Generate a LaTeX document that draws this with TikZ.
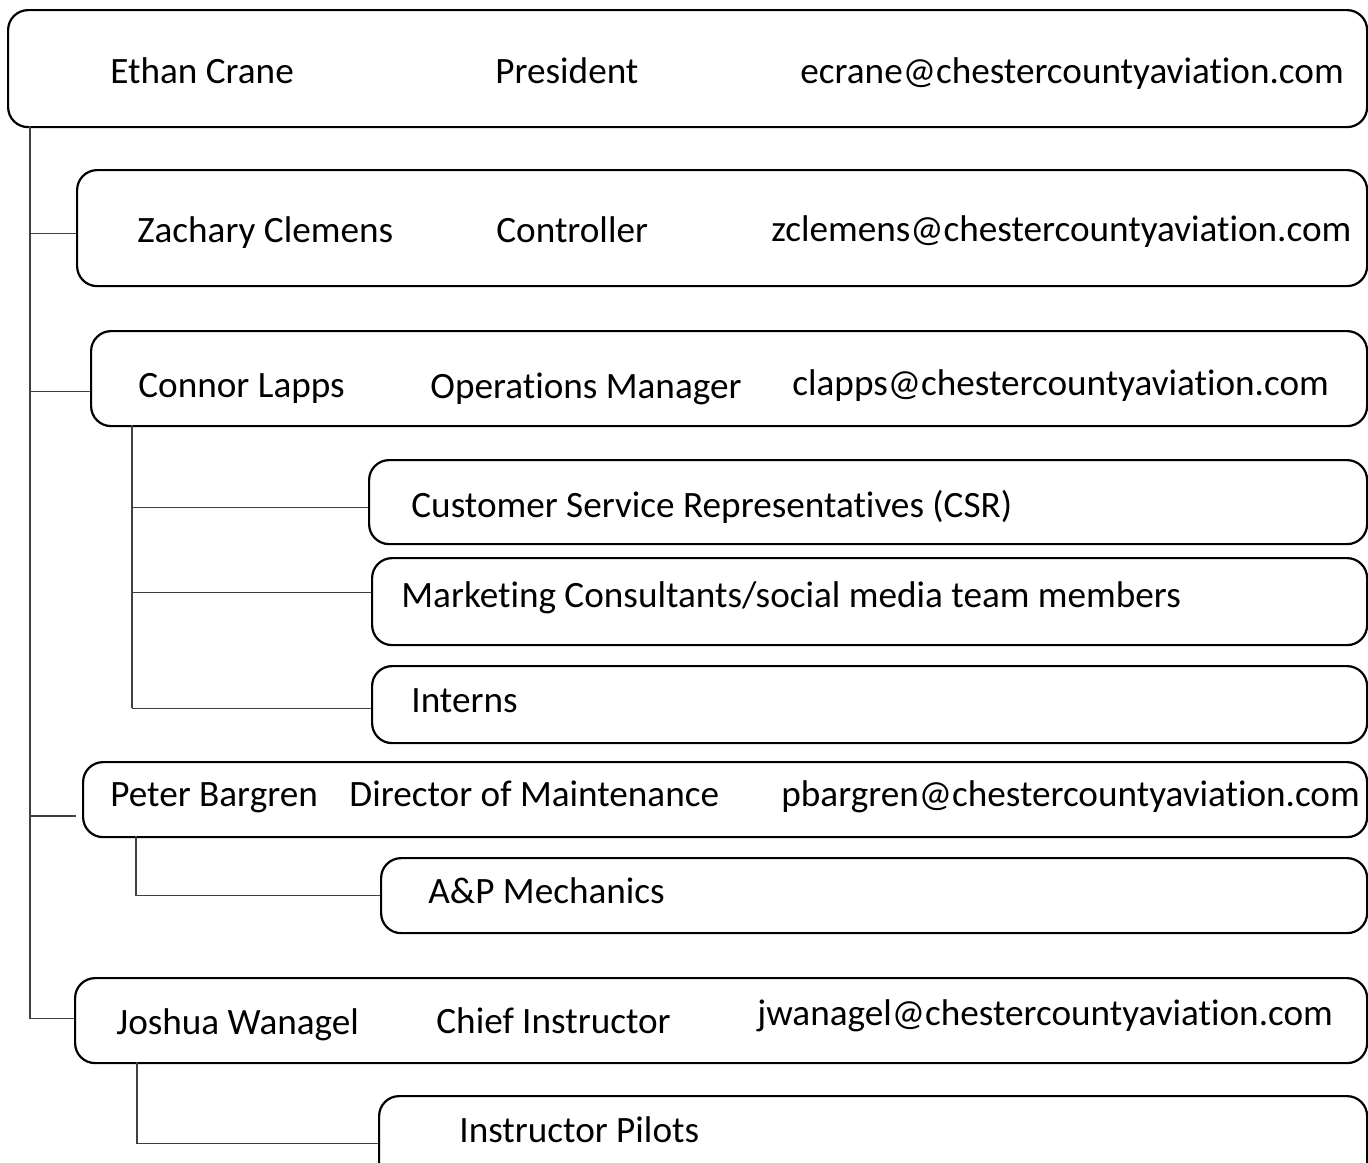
\documentclass[tikz,border=0pt]{standalone}
\usepackage{fontspec}
\setmainfont[Ligatures=NoCommon]{Carlito}
\tikzset{
  box/.style={draw, line width=1.1pt, rounded corners=10pt, anchor=north west, inner sep=0pt},
  txt/.style={anchor=base west, inner sep=0pt, font=\fontsize{18.6}{22}\selectfont},
  link/.style={draw=black!75, line width=0.55pt}
}

\begin{document}
\begin{tikzpicture}[x=0.5pt,y=-0.5pt]
      \useasboundingbox (0,0) rectangle (1368,1162);
      \clip (0,0) rectangle (1368,1162);
      % boxes
      \node[box, minimum width=679.5pt, minimum height=58.5pt] (ethan) at (7,9) {};
      \node[box, minimum width=645pt, minimum height=58pt] (zach) at (76,169) {};
      \node[box, minimum width=638pt, minimum height=47.5pt] (connor) at (90,330) {};
      \node[box, minimum width=499pt, minimum height=42pt] (csr) at (368,459) {};
      \node[box, minimum width=497.5pt, minimum height=43.5pt] (mkt) at (371,557) {};
      \node[box, minimum width=497.5pt, minimum height=38.5pt] (intern) at (371,665) {};
      \node[box, minimum width=642pt, minimum height=37.5pt] (peter) at (82,761) {};
      \node[box, minimum width=493pt, minimum height=37.5pt] (ap) at (380,857) {};
      \node[box, minimum width=646pt, minimum height=42.5pt] (joshua) at (74,977) {};
      \node[box, minimum width=494pt, minimum height=47pt] (pilots) at (378,1095) {};
      % texts
      \node[txt] (ethan-name) at (110,83) {Ethan Crane};
      \node[txt] (ethan-role) at (495,83) {President};
      \node[txt] (ethan-mail) at (800,83) {ecrane@chestercountyaviation.com};
      \node[txt] (zach-name) at (137,242) {Zachary Clemens};
      \node[txt] (zach-role) at (496,242) {Controller};
      \node[txt] (zach-mail) at (771,241) {zclemens@chestercountyaviation.com};
      \node[txt] (connor-name) at (138,397) {Connor Lapps};
      \node[txt] (connor-role) at (430,398) {Operations Manager};
      \node[txt] (connor-mail) at (792,395) {clapps@chestercountyaviation.com};
      \node[txt] (csr-text) at (411,517) {Customer Service Representatives (CSR)};
      \node[txt] (mkt-text) at (401,607) {Marketing Consultants/social media team members};
      \node[txt] (intern-text) at (411,712) {Interns};
      \node[txt] (peter-name) at (110,806) {Peter Bargren};
      \node[txt] (peter-role) at (349,806) {Director of Maintenance};
      \node[txt] (peter-mail) at (781,806) {pbargren@chestercountyaviation.com};
      \node[txt] (ap-text) at (428,903) {A\&P Mechanics};
      \node[txt] (joshua-name) at (116,1034) {Joshua Wanagel};
      \node[txt] (joshua-role) at (436,1033) {Chief Instructor};
      \node[txt] (joshua-mail) at (757,1025) {jwanagel@chestercountyaviation.com};
      \node[txt] (pilots-text) at (459,1142) {Instructor Pilots};
      % connectors
      \coordinate (trunk) at (30,126);
      \coordinate (peterin) at (76,816);
      \draw[link] (trunk) |- ([yshift=1pt]joshua.west);
      \draw[link] ([yshift=-2.5pt]trunk |- zach.west) -- ([yshift=-2.5pt]zach.west);
      \draw[link] ([yshift=-6.25pt]trunk |- connor.west) -- ([yshift=-6.25pt]connor.west);
      \draw[link] (trunk |- peterin) -- (peterin);
      \coordinate (opsdrop) at (132,425);
      \coordinate (opsend) at (132,708);
      \draw[link] (opsdrop) -- (opsend);
      \draw[link] ([yshift=-2.5pt]opsdrop |- csr.west) -- ([yshift=-2.5pt]csr.west);
      \draw[link] ([yshift=4.75pt]opsdrop |- mkt.west) -- ([yshift=4.75pt]mkt.west);
      \draw[link] ([yshift=-1.75pt]opsdrop |- intern.west) -- ([yshift=-1.75pt]intern.west);
      \coordinate (mxdrop) at (136,836);
      \draw[link] (mxdrop) |- (ap.west);
      \coordinate (ipdrop) at (137,1062);
      \draw[link] (ipdrop) |- (pilots.west);
\end{tikzpicture}
\end{document}
